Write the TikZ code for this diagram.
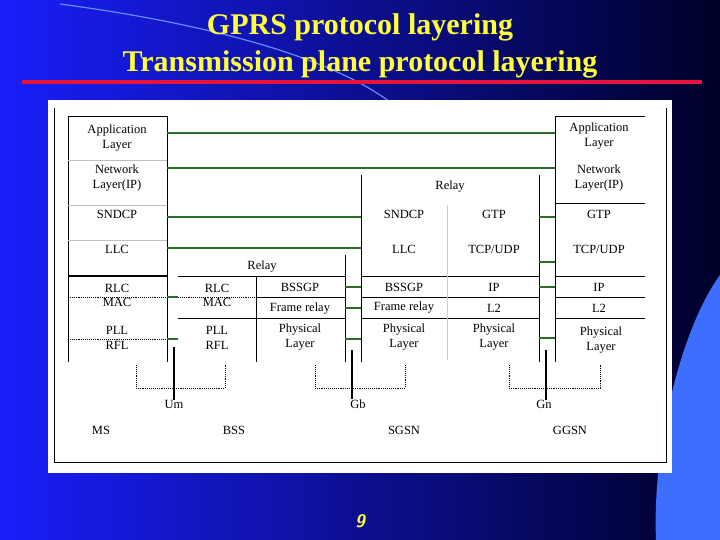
\documentclass[tikz,border=0pt]{standalone}
\usepackage{fontspec}
\setmainfont{Liberation Serif}
\definecolor{bgL}{RGB}{25,30,250}
\definecolor{bgR}{RGB}{0,0,40}
\definecolor{gl}{RGB}{40,110,40}
\definecolor{ttl}{RGB}{255,255,60}
\definecolor{rl}{RGB}{230,20,60}
\definecolor{lb}{RGB}{60,110,255}
\tikzset{lab/.style={font=\fontsize{12.5}{15}\selectfont,align=center,inner sep=0pt},
 gr/.style={gl,line width=1.2pt},
 bx/.style={black,line width=0.6pt},
 dt/.style={black,densely dotted,line width=0.9pt},
 th/.style={black,line width=1.3pt}}
\newcommand\tx[4]{\node[lab] (#1) at (#2,#3) {#4};}
\begin{document}
\begin{tikzpicture}[x=1pt,y=-1pt]
\useasboundingbox (0,0) rectangle (720,540);
\shade[left color=bgL,right color=bgR] (0,0) rectangle (720,540);
\fill[lb] (720,275) .. controls (680,330) and (652,450) .. (656,540) -- (720,540) -- cycle;
\draw[lb!80!white,line width=1.2pt] (60,4) .. controls (180,20) and (320,50) .. (390,102);
\draw[rl,line width=3.5pt] (22,82) -- (702,82);
\node[font=\bfseries\fontsize{30}{37}\selectfont,text=ttl,align=center] (title) at (360,46) {GPRS protocol layering\\Transmission plane protocol layering};
\fill[white] (48,100) rectangle (672,473);
\draw[bx] (54,108) -- (54,462) -- (666,462) -- (666,108);
% MS
\draw[bx] (68,362) -- (68,116) -- (167,116) -- (167,362);
\draw[black!25] (68,160) -- (167,160) (68,205) -- (167,205) (68,240) -- (167,240);
\draw[th] (68,276) -- (167,276);
\draw[dt] (68,297) -- (178,297) (68,339) -- (178,339);
\tx{ma}{117}{138}{Application\\Layer}
\tx{mn}{117}{178}{Network\\Layer(IP)}
\tx{ms}{117}{214}{SNDCP}
\tx{ml}{117}{249}{LLC}
\tx{mr}{117}{288}{RLC}
\tx{mm}{117}{302}{MAC}
\tx{mp}{117}{330}{PLL}
\tx{mf}{117}{345}{RFL}
% BSS
\draw[bx] (345,255) -- (345,362) (178,276) -- (345,276) (256,276) -- (256,362) (256,297) -- (345,297) (178,318) -- (345,318);
\draw[dt] (178,297) -- (256,297);
\tx{br}{262}{267}{Relay}
\tx{b1}{217}{288}{RLC}
\tx{b2}{217}{302}{MAC}
\tx{b3}{217}{330}{PLL}
\tx{b4}{217}{345}{RFL}
\tx{b5}{300}{287}{BSSGP}
\tx{b6}{300}{309}{Frame relay}
\tx{b7}{300}{337}{Physical\\Layer}
% SGSN
\draw[bx] (361,175) -- (361,362) (539,175) -- (539,362) (361,276) -- (539,276) (361,297) -- (539,297) (361,318) -- (539,318);
\draw[black!20] (447,205) -- (447,360);
\tx{sr}{450}{187}{Relay}
\tx{s1}{404}{214}{SNDCP}
\tx{s2}{494}{214}{GTP}
\tx{s3}{404}{249}{LLC}
\tx{s4}{494}{249}{TCP/UDP}
\tx{s5}{404}{287}{BSSGP}
\tx{s6}{494}{287}{IP}
\tx{s7}{404}{308}{Frame relay}
\tx{s8}{494}{308}{L2}
\tx{s9}{404}{337}{Physical\\Layer}
\tx{s10}{494}{337}{Physical\\Layer}
% GGSN
\draw[bx] (555,116) -- (645,116) (555,116) -- (555,362) (555,203) -- (645,203) (555,276) -- (645,276) (555,297) -- (645,297) (555,318) -- (645,318);
\tx{g1}{599}{136}{Application\\Layer}
\tx{g2}{599}{178}{Network\\Layer(IP)}
\tx{g3}{599}{214}{GTP}
\tx{g4}{599}{249}{TCP/UDP}
\tx{g5}{599}{287}{IP}
\tx{g6}{599}{308}{L2}
\tx{g7}{601}{340}{Physical\\Layer}
% green peer lines
\draw[gr] (167,133) -- (555,133) (167,168) -- (555,168) (167,217) -- (361,217) (167,248) -- (361,248)
 (167,297) -- (178,297) (167,339) -- (178,339)
 (345,287) -- (361,287) (345,308) -- (361,308) (345,339) -- (361,339)
 (539,217) -- (555,217) (539,262) -- (555,262) (539,287) -- (555,287) (539,338) -- (555,338);
% interfaces
\draw[dt] (136,365) -- (136,388) -- (225,388) -- (225,365);
\draw[dt] (315,365) -- (315,388) -- (405,388) -- (405,365);
\draw[dt] (509,365) -- (509,388) -- (600,388) -- (600,365);
\tx{um}{174}{404}{Um}
\tx{gb}{358}{404}{Gb}
\tx{gn}{544}{404}{Gn}
\coordinate (umt) at (174,347);
\coordinate (gbt) at (352,350);
\coordinate (gnt) at (546,350);
\draw[th] (umt) -- (um.north -| umt);
\draw[th] (gbt) -- (gb.north -| gbt);
\draw[th] (gnt) -- (gn.north -| gnt);
\tx{nms}{101}{430}{MS}
\tx{nbss}{234}{430}{BSS}
\tx{nsg}{404}{430}{SGSN}
\tx{ngg}{570}{430}{GGSN}
\node[font=\bfseries\itshape\sffamily\fontsize{18}{20}\selectfont,text=ttl] (pg) at (360,521) {9};
\end{tikzpicture}
\end{document}
